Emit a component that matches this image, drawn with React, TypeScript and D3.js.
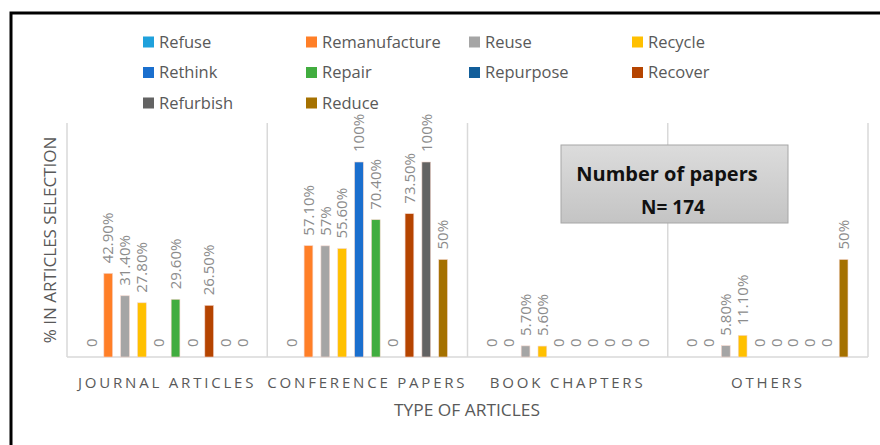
import React from "react";
import * as d3 from "d3";

const categories = ["JOURNAL ARTICLES", "CONFERENCE PAPERS", "BOOK CHAPTERS", "OTHERS"];
const seriesNames = [
  "Refuse", "Remanufacture", "Reuse", "Recycle", "Rethink",
  "Repair", "Repurpose", "Recover", "Refurbish", "Reduce",
];
const seriesColors = [
  "#1fa1dc", "#ff7f27", "#a5a5a5", "#ffc000", "#1a6fce",
  "#41ad3f", "#125e9a", "#b54400", "#636363", "#a57100",
];
// values per category, in series order; labels as printed in the source chart
const journalValues = [0, 42.9, 31.4, 27.8, 0, 29.6, 0, 26.5, 0, 0];
const conferenceValues = [0, 57.1, 57, 55.6, 100, 70.4, 0, 73.5, 100, 50];
const bookValues = [0, 0, 5.7, 5.6, 0, 0, 0, 0, 0, 0];
const otherValues = [0, 0, 5.8, 11.1, 0, 0, 0, 0, 0, 50];
const journalLabels = ["0", "42.90%", "31.40%", "27.80%", "0", "29.60%", "0", "26.50%", "0", "0"];
const conferenceLabels = ["0", "57.10%", "57%", "55.60%", "100%", "70.40%", "0", "73.50%", "100%", "50%"];
const bookLabels = ["0", "0", "5.70%", "5.60%", "0", "0", "0", "0", "0", "0"];
const otherLabels = ["0", "0", "5.80%", "11.10%", "0", "0", "0", "0", "0", "50%"];

const values = [journalValues, conferenceValues, bookValues, otherValues];
const labels = [journalLabels, conferenceLabels, bookLabels, otherLabels];

const W = 880;
const H = 445;
const left = 67;
const right = 868;
const top = 123;
const bottom = 357;

const font = "'Open Sans', 'Liberation Sans', sans-serif";
const textGray = "#595959";
const labelGray = "#8c8c8c";
const gridGray = "#d9d9d9";

export default function App() {
  const x0 = d3.scaleBand<string>().domain(categories).range([left, right]);
  const x1 = d3
    .scaleBand<string>()
    .domain(seriesNames)
    .range([0, x0.bandwidth()])
    .paddingInner(0.48)
    .paddingOuter(1.19);
  const y = d3.scaleLinear().domain([0, 120]).range([bottom, top]);

  const boundaries = [left, ...categories.map((c) => (x0(c) ?? 0) + x0.bandwidth())];

  return (
    <svg width={W} height={H} style={{ position: "absolute", left: 0, top: 0, background: "#fff" }}>
      <rect x={11} y={13} width={960} height={600} fill="#fff" stroke="#000" strokeWidth={3} />

      {/* legend */}
      {seriesNames.map((s, i) => {
        const col = i % 4;
        const row = Math.floor(i / 4);
        const lx = 143 + col * 163;
        const ly = 42 + row * 30.5;
        return (
          <g key={s}>
            <rect x={lx} y={ly - 5.5} width={11} height={11} fill={seriesColors[i]} />
            <text x={lx + 16} y={ly} dy="0.35em" fontFamily={font} fontSize={16.5} fill={textGray}>
              {s}
            </text>
          </g>
        );
      })}

      {/* vertical separators and baseline */}
      {boundaries.map((bx, i) => (
        <line key={i} x1={bx} x2={bx} y1={top} y2={bottom} stroke={gridGray} strokeWidth={1.5} />
      ))}
      <line x1={left} x2={right} y1={bottom} y2={bottom} stroke={gridGray} strokeWidth={1.5} />

      {/* bars */}
      {categories.map((c, ci) => (
        <g key={c} transform={`translate(${x0(c)},0)`}>
          {seriesNames.map((s, si) => {
            const v = values[ci][si];
            const bx = x1(s) ?? 0;
            const cx = bx + x1.bandwidth() / 2;
            return (
              <g key={s}>
                {v > 0 && (
                  <rect
                    x={bx}
                    y={y(v)}
                    width={x1.bandwidth()}
                    height={bottom - y(v)}
                    fill={seriesColors[si]}
                    stroke="#f4d6cc"
                    strokeWidth={0.6}
                  />
                )}
                <text
                  transform={`translate(${cx},${y(v) - 10}) rotate(-90)`}
                  dy="0.35em"
                  fontFamily={font}
                  fontSize={15}
                  fill={labelGray}
                >
                  {labels[ci][si]}
                </text>
              </g>
            );
          })}
          <text
            x={x0.bandwidth() / 2}
            y={383}
            dy="0.35em"
            textAnchor="middle"
            fontFamily={font}
            fontSize={15}
            letterSpacing={2.8}
            fill={textGray}
          >
            {c}
          </text>
        </g>
      ))}

      {/* axis titles */}
      <text
        x={467}
        y={410}
        dy="0.35em"
        textAnchor="middle"
        fontFamily={font}
        fontSize={16}
        fill={textGray}
        textLength={146}
        lengthAdjust="spacingAndGlyphs"
      >
        TYPE OF ARTICLES
      </text>
      <text
        transform={`translate(50,${(top + bottom) / 2}) rotate(-90)`}
        dy="0.35em"
        textAnchor="middle"
        fontFamily={font}
        fontSize={17}
        fill={textGray}
      >
        % IN ARTICLES SELECTION
      </text>

      {/* annotation box */}
      <defs>
        <linearGradient id="boxGrad" x1="0" x2="0" y1="0" y2="1">
          <stop offset="0%" stopColor="#dcdcdc" />
          <stop offset="100%" stopColor="#c4c4c4" />
        </linearGradient>
      </defs>
      <rect x={561} y={145} width={227} height={78} fill="url(#boxGrad)" stroke="#a6a6a6" strokeWidth={1} />
      <text x={667} y={174} dy="0.35em" textAnchor="middle" fontFamily={font} fontSize={20} fontWeight="bold" fill="#111">
        Number of papers
      </text>
      <text x={673} y={207} dy="0.35em" textAnchor="middle" fontFamily={font} fontSize={19} fontWeight="bold" fill="#111">
        N= 174
      </text>
    </svg>
  );
}
